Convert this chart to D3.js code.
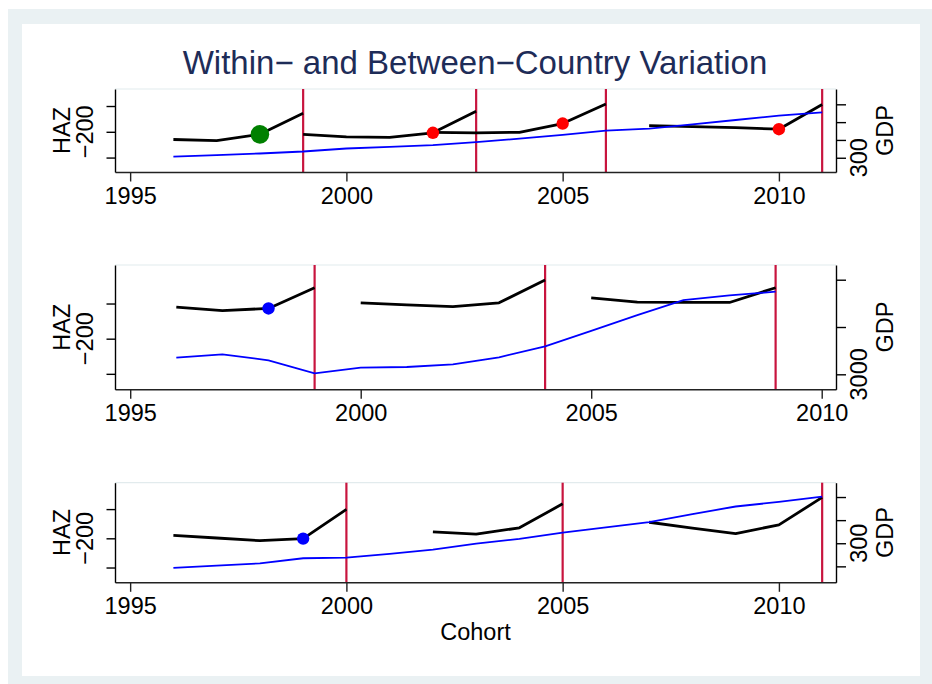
<!DOCTYPE html>
<html>
<head>
<meta charset="utf-8">
<script src="https://cdn.jsdelivr.net/npm/d3@7"></script>
<style>
  html, body { margin: 0; padding: 0; background: #fff; }
  svg { display: block; font-family: "Liberation Sans", Arial, Helvetica, sans-serif; }
</style>
</head>
<body>
<svg id="chart" width="932" height="684"></svg>
<script>
// ---- data ----
const title = "Within\u2212 and Between\u2212Country Variation";
const xTitle = "Cohort";
const yearTicks = [1995, 2000, 2005, 2010];
const hazTicks = [-150, -200, -250];
const hazLabels = [-200];

// panel 1
const p1GdpYears = [1996, 1997, 1998, 1999, 2000, 2001, 2002, 2003, 2004, 2005, 2006, 2007, 2008, 2009, 2010, 2011];
const p1Gdp = [306, 315, 324, 335, 352, 361, 371, 388, 407, 428, 452, 464, 487, 512, 536, 555];
const p1SegYears = [[1996, 1997, 1998, 1999], [1999, 2000, 2001, 2002, 2003], [2002, 2003, 2004, 2005, 2006], [2007, 2008, 2009, 2010, 2011]];
const p1SegHaz = [[-215, -217, -205, -164], [-205, -210, -211, -202, -160], [-201, -202, -201, -184, -146], [-188, -190, -192, -195, -147]];
const p1Surveys = [1999, 2003, 2006, 2011];
const p1MarkYears = [1998, 2002, 2005, 2010];
const p1MarkHaz = [-205, -202, -184, -195];
const p1GdpTicks = [300, 400, 500, 600];
const p1GdpLabels = [300];

// panel 2
const p2GdpYears = [1996, 1997, 1998, 1999, 2000, 2001, 2002, 2003, 2004, 2005, 2006, 2007, 2008, 2009];
const p2Gdp = [3351, 3423, 3296, 3021, 3140, 3154, 3211, 3359, 3592, 3920, 4250, 4570, 4670, 4746];
const p2SegYears = [[1996, 1997, 1998, 1999], [2000, 2001, 2002, 2003, 2004], [2005, 2006, 2007, 2008, 2009]];
const p2SegHaz = [[-155, -160, -157, -127.5], [-149, -152, -154.5, -149, -116.5], [-142, -148, -148.5, -148.5, -127.5]];
const p2Surveys = [1999, 2004, 2009];
const p2MarkYears = [1998];
const p2MarkHaz = [-157];
const p2GdpTicks = [3000, 4000, 5000];
const p2GdpLabels = [3000];

// panel 3
const p3GdpYears = [1996, 1997, 1998, 1999, 2000, 2001, 2002, 2003, 2004, 2005, 2006, 2007, 2008, 2009, 2010, 2011];
const p3Gdp = [193, 203, 213, 235, 238, 254, 272, 298, 319, 346, 369, 391, 426, 459, 479, 502];
const p3SegYears = [[1996, 1997, 1998, 1999, 2000], [2002, 2003, 2004, 2005], [2007, 2008, 2009, 2010, 2011]];
const p3SegHaz = [[-195, -199.5, -204, -200.5, -150.5], [-189, -193, -182, -141], [-172.5, -182.5, -192, -177, -130]];
const p3Surveys = [2000, 2005, 2011];
const p3MarkYears = [1999];
const p3MarkHaz = [-200.5];
const p3GdpTicks = [200, 300, 400, 500];
const p3GdpLabels = [300];

// ---- layout ----
const panels = [
  { top: 89, bottom: 172, xDomain: [1994.65, 2011.32], hazDomain: [-278, -117], gdpDomain: [220, 686],
    gdpYears: p1GdpYears, gdp: p1Gdp, segYears: p1SegYears, segHaz: p1SegHaz, surveys: p1Surveys,
    markYears: p1MarkYears, markHaz: p1MarkHaz, markColor: ["#008000", "#ff0000", "#ff0000", "#ff0000"], markR: [9.3, 6.2, 6.2, 6.2],
    gdpTicks: p1GdpTicks, gdpLabels: p1GdpLabels, xTitle: false },
  { top: 265, bottom: 389.3, xDomain: [1994.67, 2010.31], hazDomain: [-272, -95.2], gdpDomain: [2683, 5311],
    gdpYears: p2GdpYears, gdp: p2Gdp, segYears: p2SegYears, segHaz: p2SegHaz, surveys: p2Surveys,
    markYears: p2MarkYears, markHaz: p2MarkHaz, markColor: ["#0000ff"], markR: [6.2],
    gdpTicks: p2GdpTicks, gdpLabels: p2GdpLabels, xTitle: false },
  { top: 482.7, bottom: 582.3, xDomain: [1994.65, 2011.32], hazDomain: [-275.3, -104.8], gdpDomain: [131, 562],
    gdpYears: p3GdpYears, gdp: p3Gdp, segYears: p3SegYears, segHaz: p3SegHaz, surveys: p3Surveys,
    markYears: p3MarkYears, markHaz: p3MarkHaz, markColor: ["#0000ff"], markR: [6.2],
    gdpTicks: p3GdpTicks, gdpLabels: p3GdpLabels, xTitle: true }
];

const left = 115, right = 836;
const fontSize = 23.5;
const minus = s => String(s).replace("-", "\u2212");

const svg = d3.select("#chart");

// background frame
svg.append("rect").attr("x", 8).attr("y", 9).attr("width", 924).attr("height", 675).attr("fill", "#eaf1f3");
svg.append("rect").attr("x", 22).attr("y", 24).attr("width", 898).attr("height", 652).attr("fill", "#ffffff");

svg.append("text")
  .attr("x", 475).attr("y", 74)
  .attr("text-anchor", "middle")
  .attr("font-size", 33)
  .attr("fill", "#1e2c58")
  .text(title);

panels.forEach(p => {
  const x = d3.scaleLinear().domain(p.xDomain).range([left, right]);
  const yL = d3.scaleLinear().domain(p.hazDomain).range([p.bottom, p.top]);
  const yR = d3.scaleLinear().domain(p.gdpDomain).range([p.bottom, p.top]);
  const g = svg.append("g");

  // faint plot region border
  g.append("line").attr("x1", left).attr("x2", right).attr("y1", p.top).attr("y2", p.top)
    .attr("stroke", "#e2ebed").attr("stroke-width", 1.2);

  // survey years
  g.selectAll(".survey").data(p.surveys).enter().append("line")
    .attr("x1", d => x(d)).attr("x2", d => x(d))
    .attr("y1", p.top).attr("y2", p.bottom)
    .attr("stroke", "#c8143e").attr("stroke-width", 2.2);

  // HAZ segments
  const hazLine = d3.line().x(d => x(d[0])).y(d => yL(d[1]));
  p.segYears.forEach((yrs, i) => {
    g.append("path")
      .attr("d", hazLine(yrs.map((yr, j) => [yr, p.segHaz[i][j]])))
      .attr("fill", "none").attr("stroke", "#000").attr("stroke-width", 2.8)
      .attr("stroke-linejoin", "round");
  });

  // GDP line
  const gdpLine = d3.line().x(d => x(d[0])).y(d => yR(d[1]));
  g.append("path")
    .attr("d", gdpLine(p.gdpYears.map((yr, j) => [yr, p.gdp[j]])))
    .attr("fill", "none").attr("stroke", "#0000ff").attr("stroke-width", 1.8);

  // markers
  g.selectAll(".mark").data(p.markYears).enter().append("circle")
    .attr("cx", d => x(d)).attr("cy", (d, i) => yL(p.markHaz[i]))
    .attr("r", (d, i) => p.markR[i]).attr("fill", (d, i) => p.markColor[i]);

  // axes
  const xAxis = g.append("g").attr("transform", `translate(0,${p.bottom})`)
    .call(d3.axisBottom(x).tickValues(yearTicks).tickSize(9.5).tickSizeOuter(0).tickPadding(5.5).tickFormat(d3.format("d")));
  xAxis.select(".domain").attr("stroke", "#222").attr("stroke-width", 1.4);
  xAxis.selectAll(".tick line").attr("stroke", "#222").attr("stroke-width", 1.4);
  xAxis.selectAll("text").attr("font-size", fontSize).attr("font-family", null).attr("fill", "#000");

  const lAxis = g.append("g").attr("transform", `translate(${left},0)`)
    .call(d3.axisLeft(yL).tickValues(hazTicks).tickSize(8.5).tickSizeOuter(0).tickFormat(""));
  lAxis.select(".domain").attr("stroke", "#000").attr("stroke-width", 1.4);
  lAxis.selectAll(".tick line").attr("stroke", "#000").attr("stroke-width", 1.4);

  const rAxis = g.append("g").attr("transform", `translate(${right},0)`)
    .call(d3.axisRight(yR).tickValues(p.gdpTicks).tickSize(10).tickSizeOuter(0).tickFormat(""));
  rAxis.select(".domain").attr("stroke", "#000").attr("stroke-width", 1.4);
  rAxis.selectAll(".tick line").attr("stroke", "#000").attr("stroke-width", 1.4);

  // rotated labels
  const mid = (p.top + p.bottom) / 2;
  const rot = (bx, cy, txt) => g.append("text")
    .attr("transform", `translate(${bx},${cy}) rotate(-90)`)
    .attr("text-anchor", "middle").attr("font-size", fontSize).attr("fill", "#000")
    .text(txt);

  rot(70, mid, "HAZ");
  hazLabels.forEach(v => rot(93, yL(v), minus(v)));
  rot(893, mid, "GDP");
  p.gdpLabels.forEach(v => rot(867, yR(v), minus(v)));

  if (p.xTitle) {
    g.append("text").attr("x", 475.5).attr("y", 640)
      .attr("text-anchor", "middle").attr("font-size", fontSize).attr("fill", "#000")
      .text(xTitle);
  }
});
</script>
</body>
</html>
